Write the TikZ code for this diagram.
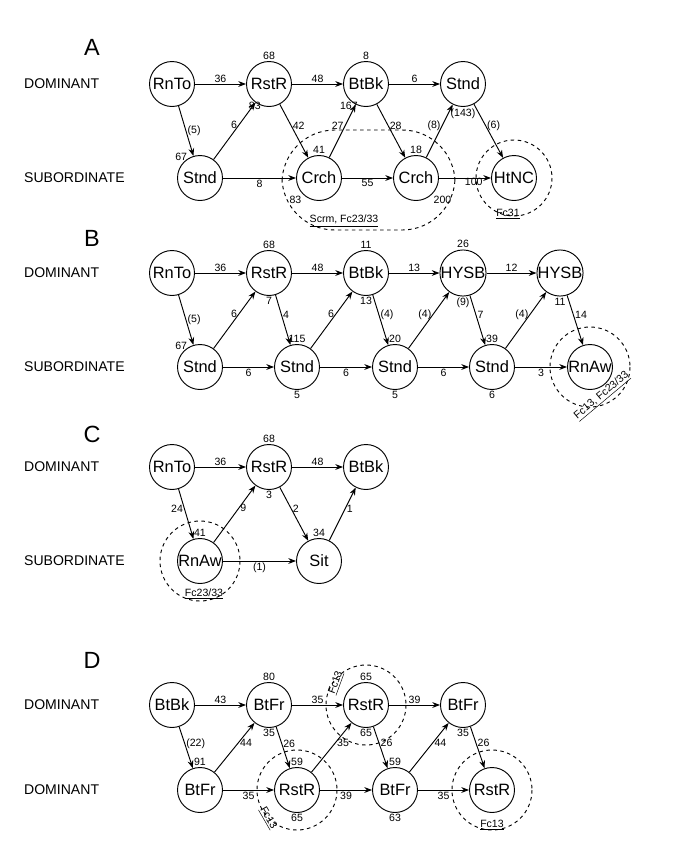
\documentclass[tikz,border=0pt]{standalone}
\usepackage{fontspec}
\setmainfont{Liberation Sans}
\usetikzlibrary{arrows.meta,positioning}
\tikzset{
  st/.style={circle,draw,thick,minimum size=1.35cm,inner sep=0pt,font=\fontsize{14}{16}\selectfont},
  num/.style={font=\fontsize{9}{11}\selectfont,inner sep=1pt},
  fc/.style={draw,dashed,thick},
  row/.style={anchor=west,font=\fontsize{12}{14}\selectfont},
  panel/.style={font=\fontsize{20}{22}\selectfont},
  every label/.style={num},
}
\begin{document}
\begin{tikzpicture}[x=0.03cm,y=-0.03cm]
  \useasboundingbox (0,0) rectangle (699,857);
  % panel A
  \node[panel] (pa) at (92,47) {A};
  \node[row] (da) at (20,84) {DOMINANT};
  \node[row] (sa) at (20,178) {SUBORDINATE};
  \draw[fc,rounded corners=45] (282,130) rectangle (455,230);
  \draw[fc] (514,178) circle (38);
  \node[st] (a1) at (172,84) {RnTo};
  \node[st,label={above:68},label={[xshift=8pt]below left=-3pt:83}] (a2) at (269,84) {RstR};
  \node[st,label={above:8},label={[xshift=8pt]below left=-3pt:167}] (a3) at (366,84) {BtBk};
  \node[st,label={below:(143)}] (a4) at (463,84) {Stnd};
  \node[st,label={[xshift=4pt]above left=-3pt:67}] (b1) at (200,178) {Stnd};
  \node[st,label={above:41},label={below left=-2pt:83}] (b2) at (319,178) {Crch};
  \node[st,label={above:18},label={below right=-4pt:200}] (b3) at (416,178) {Crch};
  \node[st] (b4) at (514,178) {HtNC};
  \node[num] (la1) at (344,221) {\underline{Scrm, Fc23/33}};
  \node[num] (la2) at (508,214) {\underline{Fc31}};
  \begin{scope}[every path/.style={thick,-{Stealth}},every node/.style={num}]
    \path (a1) edge node[above] {36} (a2)
      edge node[right] {(5)} (b1);
    \path (a2) edge node[above] {48} (a3)
      edge node[right,pos=0.4] {42} (b2);
    \path (a3) edge node[above] {6} (a4)
      edge node[right,pos=0.4] {28} (b3);
    \path (a4) edge node[right,pos=0.4] {(6)} (b4);
    \path (b1) edge node[left,pos=0.6] {6} (a2)
      edge node[below] {8} (b2);
    \path (b2) edge node[left,pos=0.6] {27} (a3)
      edge node[below] {55} (b3);
    \path (b3) edge node[left,pos=0.6] {(8)} (a4)
      edge node[below right=-2pt] {100} (b4);
  \end{scope}
  % panel B
  \node[panel] (pb) at (92,238) {B};
  \node[row] (db) at (20,273) {DOMINANT};
  \node[row] (sb) at (20,367) {SUBORDINATE};
  \draw[fc] (590,367) circle (40);
  \node[st] (c1) at (172,273) {RnTo};
  \node[st,label={above:68},label={below:7}] (c2) at (269,273) {RstR};
  \node[st,label={above:11},label={below:13}] (c3) at (366,273) {BtBk};
  \node[st,label={above:26},label={below:(9)}] (c4) at (463,273) {HYSB};
  \node[st,label={below:11}] (c5) at (560,273) {HYSB};
  \node[st,label={[xshift=4pt]above left=-3pt:67}] (d1) at (200,367) {Stnd};
  \node[st,label={above:115},label={below:5}] (d2) at (297,367) {Stnd};
  \node[st,label={above:20},label={below:5}] (d3) at (395,367) {Stnd};
  \node[st,label={above:39},label={below:6}] (d4) at (492,367) {Stnd};
  \node[st] (d5) at (590,367) {RnAw};
  \node[num,rotate=40] (lb1) at (602,396) {\underline{Fc13, Fc23/33}};
  \begin{scope}[every path/.style={thick,-{Stealth}},every node/.style={num}]
    \path (c1) edge node[above] {36} (c2)
      edge node[right] {(5)} (d1);
    \path (c2) edge node[above] {48} (c3)
      edge node[right,pos=0.4] {4} (d2);
    \path (c3) edge node[above] {13} (c4)
      edge node[right,pos=0.4] {(4)} (d3);
    \path (c4) edge node[above] {12} (c5)
      edge node[right,pos=0.4] {7} (d4);
    \path (c5) edge node[right,pos=0.4] {14} (d5);
    \path (d1) edge node[left,pos=0.6] {6} (c2)
      edge node[below] {6} (d2);
    \path (d2) edge node[left,pos=0.6] {6} (c3)
      edge node[below] {6} (d3);
    \path (d3) edge node[left,pos=0.6] {(4)} (c4)
      edge node[below] {6} (d4);
    \path (d4) edge node[left,pos=0.6] {(4)} (c5)
      edge node[below] {3} (d5);
  \end{scope}
  % panel C
  \node[panel] (pc) at (92,434) {C};
  \node[row] (dc) at (20,467) {DOMINANT};
  \node[row] (sc) at (20,561) {SUBORDINATE};
  \draw[fc] (200,561) circle (40);
  \node[st] (e1) at (172,467) {RnTo};
  \node[st,label={above:68},label={below:3}] (e2) at (269,467) {RstR};
  \node[st] (e3) at (366,467) {BtBk};
  \node[st,label={above:41}] (f1) at (200,561) {RnAw};
  \node[st,label={above:34}] (f2) at (319,561) {Sit};
  \node[num] (lc1) at (204,594) {\underline{Fc23/33}};
  \begin{scope}[every path/.style={thick,-{Stealth}},every node/.style={num}]
    \path (e1) edge node[left,pos=0.4] {24} (f1)
      edge node[above] {36} (e2);
    \path (e2) edge node[above] {48} (e3)
      edge node[right,pos=0.4] {2} (f2);
    \path (f1) edge node[right,pos=0.6] {9} (e2)
      edge node[below] {(1)} (f2);
    \path (f2) edge node[right,pos=0.6] {1} (e3);
  \end{scope}
  % panel D
  \node[panel] (pd) at (92,660) {D};
  \node[row] (dd) at (20,705) {DOMINANT};
  \node[row] (sd) at (20,790) {DOMINANT};
  \draw[fc] (366,705) circle (40);
  \draw[fc] (297,790) circle (40);
  \draw[fc] (492,790) circle (40);
  \node[st] (g1) at (172,705) {BtBk};
  \node[st,label={above:80},label={below:35}] (g2) at (269,705) {BtFr};
  \node[st,label={above:65},label={below:65}] (g3) at (366,705) {RstR};
  \node[st,label={below:35}] (g4) at (463,705) {BtFr};
  \node[st,label={above:91}] (h1) at (200,790) {BtFr};
  \node[st,label={above:59},label={below:65}] (h2) at (297,790) {RstR};
  \node[st,label={above:59},label={below:63}] (h3) at (395,790) {BtFr};
  \node[st] (h4) at (492,790) {RstR};
  \node[num,rotate=70] (ld1) at (336,683) {\underline{Fc13}};
  \node[num,rotate=-60] (ld2) at (268,818) {\underline{Fc13}};
  \node[num] (ld3) at (492,825) {\underline{Fc13}};
  \begin{scope}[every path/.style={thick,-{Stealth}},every node/.style={num}]
    \path (g1) edge node[above] {43} (g2)
      edge node[right,pos=0.4] {(22)} (h1);
    \path (g2) edge node[above] {35} (g3)
      edge node[right,pos=0.4] {26} (h2);
    \path (g3) edge node[above] {39} (g4)
      edge node[right,pos=0.4] {26} (h3);
    \path (g4) edge node[right,pos=0.4] {26} (h4);
    \path (h1) edge node[right,pos=0.6] {44} (g2)
      edge node[below] {35} (h2);
    \path (h2) edge node[right,pos=0.6] {35} (g3)
      edge node[below] {39} (h3);
    \path (h3) edge node[right,pos=0.6] {44} (g4)
      edge node[below] {35} (h4);
  \end{scope}
\end{tikzpicture}
\end{document}
